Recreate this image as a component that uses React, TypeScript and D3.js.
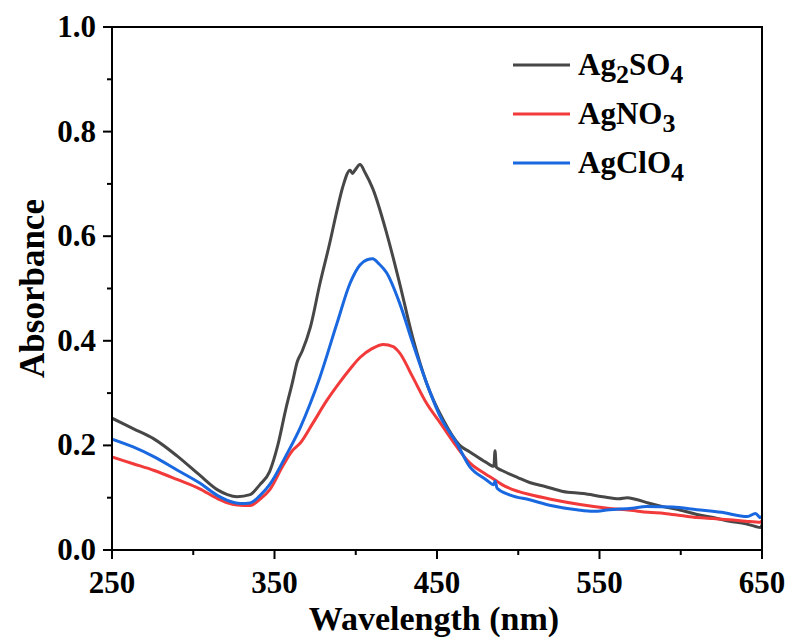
import React from "react";
import * as d3 from "d3";

const seriesNames = ["Ag2SO4", "AgNO3", "AgClO4"];

const wlAg2SO4 = [250, 263, 276, 290, 304, 315, 321, 327, 335, 341, 347, 352, 357, 361, 364, 367, 372, 378, 384, 388.5, 392, 396.5, 398, 399.5, 402.6, 405.7, 410.6, 419, 427, 435, 443.5, 453.8, 464, 470, 480, 485, 485.7, 486.5, 490, 500, 507, 517, 527.5, 540, 552, 562, 567, 572, 580, 589, 600, 610, 620, 630, 640, 646, 649, 650];
const absAg2SO4 = [0.252, 0.232, 0.212, 0.18, 0.143, 0.115, 0.106, 0.102, 0.106, 0.125, 0.15, 0.2, 0.27, 0.32, 0.36, 0.38, 0.425, 0.51, 0.587, 0.65, 0.694, 0.726, 0.72, 0.726, 0.737, 0.722, 0.69, 0.606, 0.51, 0.407, 0.32, 0.249, 0.2, 0.188, 0.168, 0.16, 0.19, 0.158, 0.152, 0.138, 0.129, 0.121, 0.112, 0.108, 0.102, 0.098, 0.1, 0.097, 0.09, 0.083, 0.076, 0.068, 0.062, 0.055, 0.05, 0.045, 0.043, 0.048];

const wlAgNO3 = [250, 263, 276, 290, 304, 315, 321, 327, 335, 341, 347, 355, 361, 366, 373.7, 382, 390, 397, 402.6, 410, 417, 423, 427, 435, 443.5, 452, 462, 470, 480, 485.7, 490, 500, 507, 520, 538, 555, 569, 580, 590, 600, 610, 620, 630, 640, 649, 650];
const absAgNO3 = [0.178, 0.165, 0.152, 0.135, 0.117, 0.098, 0.09, 0.086, 0.085, 0.097, 0.115, 0.16, 0.19, 0.205, 0.243, 0.285, 0.32, 0.348, 0.368, 0.385, 0.393, 0.389, 0.377, 0.331, 0.281, 0.243, 0.198, 0.167, 0.145, 0.134, 0.125, 0.112, 0.106, 0.097, 0.087, 0.08, 0.076, 0.072, 0.07, 0.066, 0.062, 0.06, 0.058, 0.055, 0.053, 0.056];

const wlAgClO4 = [250, 263, 276, 290, 304, 315, 321, 329, 335, 341, 347, 357, 366, 372, 378, 388.5, 396.5, 402.6, 407, 410.5, 414, 419, 427, 435, 443.5, 452, 462, 470, 480, 485, 485.7, 487, 495, 507, 520, 536, 546, 556, 570, 579, 595, 610, 625, 641, 646, 649, 650];
const absAgClO4 = [0.212, 0.197, 0.178, 0.153, 0.128, 0.104, 0.095, 0.089, 0.09, 0.104, 0.125, 0.18, 0.235, 0.28, 0.331, 0.434, 0.51, 0.545, 0.555, 0.557, 0.548, 0.53, 0.472, 0.396, 0.32, 0.255, 0.205, 0.16, 0.135, 0.125, 0.132, 0.118, 0.105, 0.096, 0.085, 0.077, 0.074, 0.077, 0.08, 0.083, 0.082, 0.077, 0.072, 0.064, 0.07, 0.062, 0.065];

const colors = ["#474747", "#f23a3a", "#1a68e0"];

const xTicks = [250, 350, 450, 550, 650];
const xMinor = [300, 400, 500, 600];
const yTicks = [0.0, 0.2, 0.4, 0.6, 0.8, 1.0];
const yMinor = [0.1, 0.3, 0.5, 0.7, 0.9];

const W = 788, H = 641;
const L = 112, R = 762, T = 27, B = 550;

export default function App() {
  const x = d3.scaleLinear().domain([250, 650]).range([L, R]);
  const y = d3.scaleLinear().domain([0, 1]).range([B, T]);
  const line = d3.line<[number, number]>().x(d => x(d[0])).y(d => y(d[1])).curve(d3.curveMonotoneX);
  const data: [number, number][][] = [
    wlAg2SO4.map((w, i) => [w, absAg2SO4[i]]),
    wlAgNO3.map((w, i) => [w, absAgNO3[i]]),
    wlAgClO4.map((w, i) => [w, absAgClO4[i]]),
  ];
  const font = "'Liberation Serif', 'Times New Roman', serif";
  const legendY = [65, 114, 163];
  const legendLabels = [
    [["Ag", false], ["2", true], ["SO", false], ["4", true]],
    [["AgNO", false], ["3", true]],
    [["AgClO", false], ["4", true]],
  ] as [string, boolean][][];
  return (
    <svg width={W} height={H} style={{ position: "absolute", left: 0, top: 0, background: "#fff" }} fontFamily={font} fontWeight="bold">
      <defs>
        <clipPath id="clip"><rect x={L} y={T} width={R - L} height={B - T} /></clipPath>
      </defs>
      <g clipPath="url(#clip)">
        {data.map((d, i) => (
          <path key={i} d={line(d) || ""} fill="none" stroke={colors[i]} strokeWidth={3} strokeLinejoin="round" />
        ))}
      </g>
      <rect x={L} y={T} width={R - L} height={B - T} fill="none" stroke="#000" strokeWidth={2} />
      {xTicks.map(t => (
        <g key={t}>
          <line x1={x(t)} x2={x(t)} y1={B} y2={B + 9} stroke="#000" strokeWidth={2} />
          <text x={x(t)} y={593} textAnchor="middle" fontSize={31}>{t}</text>
        </g>
      ))}
      {xMinor.map(t => (
        <line key={t} x1={x(t)} x2={x(t)} y1={B} y2={B + 5} stroke="#000" strokeWidth={2} />
      ))}
      {yTicks.map(t => (
        <g key={t}>
          <line x1={L - 9} x2={L} y1={y(t)} y2={y(t)} stroke="#000" strokeWidth={2} />
          <text x={96} y={y(t) + 10} textAnchor="end" fontSize={31}>{t.toFixed(1)}</text>
        </g>
      ))}
      {yMinor.map(t => (
        <line key={t} x1={L - 5} x2={L} y1={y(t)} y2={y(t)} stroke="#000" strokeWidth={2} />
      ))}
      <text x={(L + R) / 2 - 3} y={630} textAnchor="middle" fontSize={34}>Wavelength (nm)</text>
      <text transform={`translate(44,${(T + B) / 2}) rotate(-90)`} textAnchor="middle" fontSize={35}>Absorbance</text>
      {legendLabels.map((parts, i) => (
        <g key={i}>
          <line x1={513} x2={570} y1={legendY[i]} y2={legendY[i]} stroke={colors[i]} strokeWidth={3} />
          <text x={578} y={legendY[i] + 10} fontSize={31}>
            {parts.map(([s, sub], j) => (
              <tspan key={j} fontSize={sub ? 26 : 31} dy={sub ? 8 : (j > 0 ? -8 : 0)}>{s}</tspan>
            ))}
          </text>
        </g>
      ))}
    </svg>
  );
}
